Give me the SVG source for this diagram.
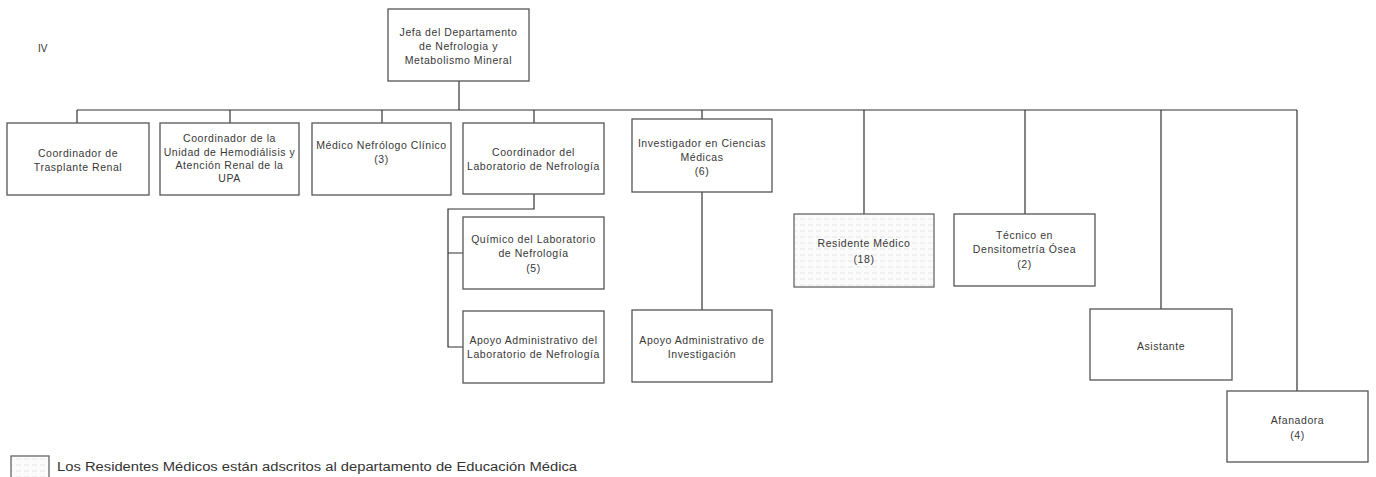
<svg xmlns="http://www.w3.org/2000/svg" width="1376" height="477" viewBox="0 0 1376 477">
<style>
.box{fill:#fff;stroke:#555;stroke-width:1.3}
.res{fill:url(#dots);stroke:#666;stroke-width:1.3}
.t{font-family:"Liberation Sans",Arial,sans-serif;font-size:10.5px;letter-spacing:0.55px;fill:#383838;text-anchor:middle}
.c{fill:none;stroke:#333;stroke-width:1.2}
</style>
<defs>
<pattern id="dots" width="8" height="6" patternUnits="userSpaceOnUse">
<rect width="8" height="6" fill="#fbfbfb"/>
<line x1="0" y1="3" x2="5" y2="3" stroke="#e6e6e6" stroke-width="1"/>
</pattern>
</defs>
<text x="38" y="52" style="font-family:'Liberation Sans',Arial,sans-serif;font-size:10px;fill:#333">IV</text>
<g id="connectors">
<path class="c" d="M459,81 V110"/>
<path class="c" d="M77,110 H1297"/>
<path class="c" d="M77,110 V123 M230,110 V123 M382,110 V123 M534,110 V123 M702,110 V119 M864,110 V214 M1025,110 V214 M1161,110 V309 M1297,110 V391"/>
<path class="c" d="M534,194 V209 H448 V347 H463 M448,253 H463"/>
<path class="c" d="M702,192 V310"/>
</g>
<g id="jefa"><rect class="box" x="388" y="9" width="141" height="72"/>
<text class="t" x="458.5" y="36">Jefa del Departamento</text><text class="t" x="458.5" y="50">de Nefrologia y</text><text class="t" x="458.5" y="64">Metabolismo Mineral</text></g>
<g id="trasplante"><rect class="box" x="7" y="123" width="142" height="72"/>
<text class="t" x="78" y="157">Coordinador de</text><text class="t" x="78" y="171">Trasplante Renal</text></g>
<g id="hemodialisis"><rect class="box" x="160" y="123" width="139" height="72"/>
<text class="t" x="229.5" y="142">Coordinador de la</text><text class="t" x="229.5" y="156">Unidad de Hemodiálisis y</text><text class="t" x="229.5" y="169">Atención Renal de la</text><text class="t" x="229.5" y="182">UPA</text></g>
<g id="medico"><rect class="box" x="312" y="123" width="139" height="72"/>
<text class="t" x="381.5" y="149">Médico Nefrólogo Clínico</text><text class="t" x="381.5" y="163">(3)</text></g>
<g id="coordlab"><rect class="box" x="463" y="123" width="141" height="71"/>
<text class="t" x="533.5" y="156">Coordinador del</text><text class="t" x="533.5" y="170">Laboratorio de Nefrología</text></g>
<g id="investigador"><rect class="box" x="632" y="119" width="140" height="73"/>
<text class="t" x="702" y="147">Investigador en Ciencias</text><text class="t" x="702" y="161">Médicas</text><text class="t" x="702" y="175">(6)</text></g>
<g id="quimico"><rect class="box" x="463" y="217" width="141" height="72"/>
<text class="t" x="533.5" y="243">Químico del Laboratorio</text><text class="t" x="533.5" y="257">de Nefrología</text><text class="t" x="533.5" y="272">(5)</text></g>
<g id="apoyolab"><rect class="box" x="463" y="311" width="141" height="72"/>
<text class="t" x="533.5" y="344">Apoyo Administrativo del</text><text class="t" x="533.5" y="358">Laboratorio de Nefrología</text></g>
<g id="apoyoinv"><rect class="box" x="632" y="310" width="140" height="72"/>
<text class="t" x="702" y="344">Apoyo Administrativo de</text><text class="t" x="702" y="358">Investigación</text></g>
<g id="residente"><rect class="res" x="794" y="214" width="140" height="73"/>
<text class="t" x="864" y="247">Residente Médico</text><text class="t" x="864" y="263">(18)</text></g>
<g id="tecnico"><rect class="box" x="954" y="214" width="141" height="72"/>
<text class="t" x="1024.5" y="239">Técnico en</text><text class="t" x="1024.5" y="253">Densitometría Ósea</text><text class="t" x="1024.5" y="268">(2)</text></g>
<g id="asistente"><rect class="box" x="1090" y="309" width="142" height="71"/>
<text class="t" x="1161" y="350">Asistante</text></g>
<g id="afanadora"><rect class="box" x="1227" y="391" width="141" height="71"/>
<text class="t" x="1297.5" y="424">Afanadora</text><text class="t" x="1297.5" y="439">(4)</text></g>
<g id="legend"><rect class="res" x="11" y="456" width="38" height="22"/>
<text x="57" y="471" textLength="520" lengthAdjust="spacingAndGlyphs" style="font-family:'Liberation Sans',Arial,sans-serif;font-size:12.5px;fill:#333">Los Residentes Médicos están adscritos al departamento de Educación Médica</text></g>
</svg>
